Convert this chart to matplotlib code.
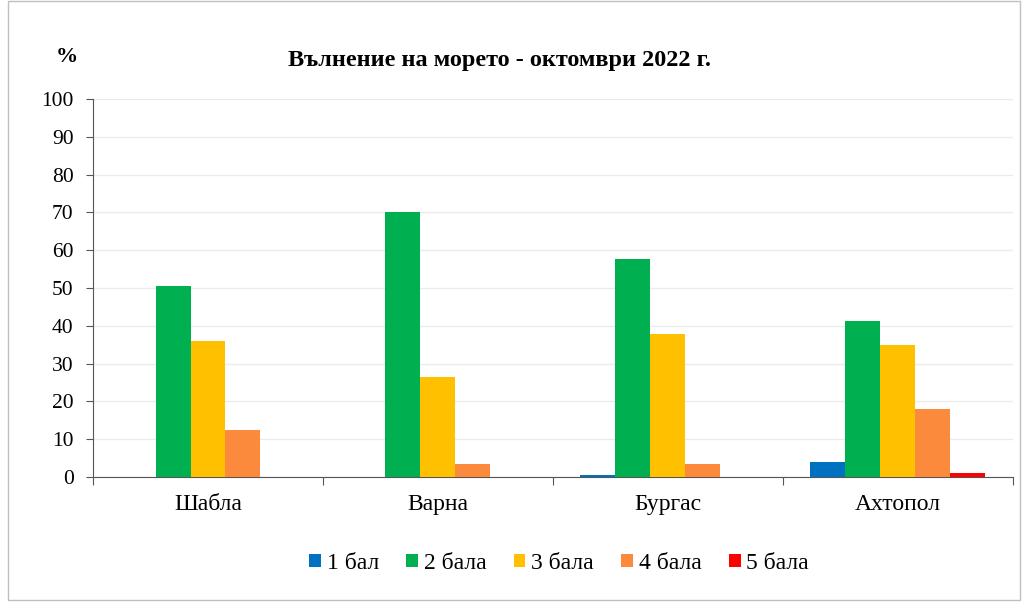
import numpy as np
import matplotlib.pyplot as plt
from matplotlib.patches import Rectangle

plt.rcParams['font.family'] = ['Liberation Serif', 'DejaVu Serif']

stations = ['Шабла', 'Варна', 'Бургас', 'Ахтопол']
series = ['1 бал', '2 бала', '3 бала', '4 бала', '5 бала']
bal1 = [0, 0, 0.5, 4]
bal2 = [50.5, 70, 57.7, 41.2]
bal3 = [36, 26.5, 37.8, 35]
bal4 = [12.5, 3.5, 3.5, 18]
bal5 = [0, 0, 0, 1]
colors = ['#0070C0', '#00B050', '#FFC000', '#FB8A3C', '#FF0000']

fig = plt.figure(figsize=(10.22, 6.05), dpi=100)
fig.patches.append(Rectangle((0.008, 0.008), 0.99, 0.99, transform=fig.transFigure,
                             fill=False, edgecolor='#BFBFBF', lw=1))
ax = fig.add_axes([0.091, 0.2116, 0.9, 0.6248])

w = 0.152
centers = np.arange(len(stations)) + 0.5
for k, vals in enumerate([bal1, bal2, bal3, bal4, bal5]):
    ax.bar(centers + (k - 2) * w, vals, width=w, color=colors[k], label=series[k], zorder=3)

ax.set_xlim(0, 4)
ax.set_ylim(0, 100)
ax.set_yticks(np.arange(0, 101, 10))
ax.yaxis.grid(True, color='#EBEBEB', lw=1, zorder=0)
ax.set_xticks(np.arange(0, 5))
ax.set_xticklabels([])
ax.set_xticks(centers, minor=True)
ax.set_xticklabels(stations, minor=True)
ax.tick_params(axis='x', which='minor', length=0, pad=12, labelsize=17)
ax.tick_params(axis='x', which='major', length=6, direction='out', color='#555555')
ax.tick_params(axis='y', length=5, pad=9, labelsize=15.5, color='#555555')
for s in ['top', 'right']:
    ax.spines[s].set_visible(False)
ax.spines['left'].set_color('#555555')
ax.spines['bottom'].set_color('#555555')

fig.text(0.489, 0.9, 'Вълнение на морето - октомври 2022 г.', ha='center', va='center',
         fontsize=17.5, fontweight='bold')
fig.text(0.065, 0.905, '%', ha='center', va='center', fontsize=16, fontweight='bold')

leg = fig.legend(loc='center', bbox_to_anchor=(0.547, 0.069), ncol=5, frameon=False,
                 fontsize=17, handlelength=0.5, handleheight=0.5, handletextpad=0.25,
                 columnspacing=1.15)

fig.savefig('out.png', dpi=100)
